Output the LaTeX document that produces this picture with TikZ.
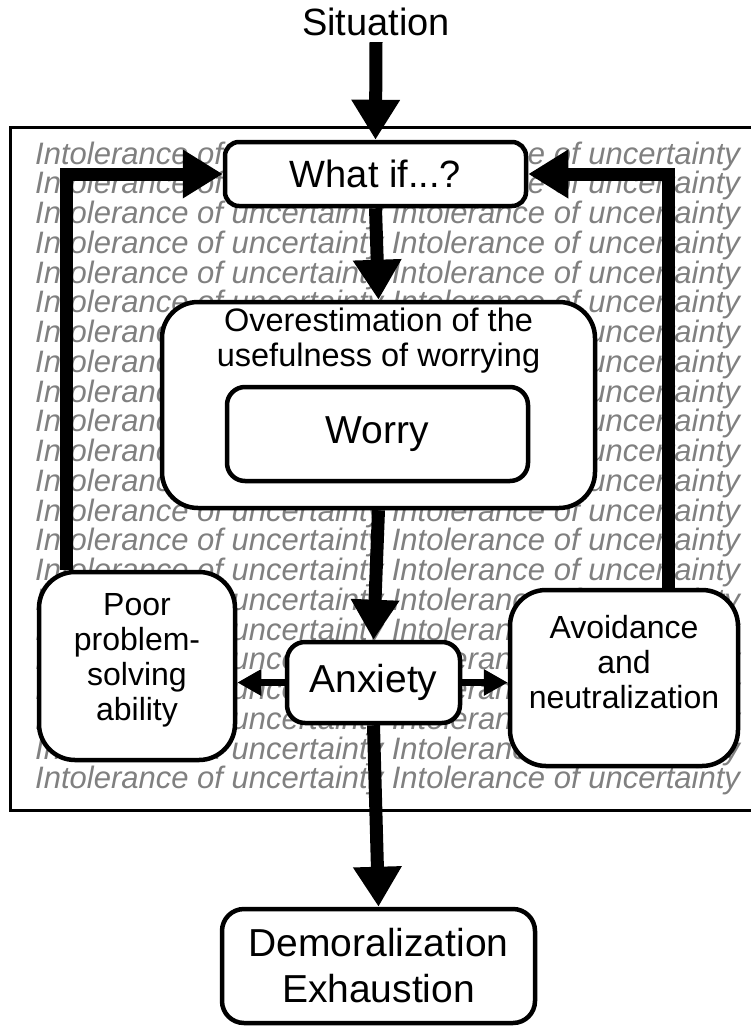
\documentclass[tikz,border=0pt]{standalone}
\usepackage{fontspec}
\setmainfont{Liberation Sans}
\usetikzlibrary{arrows.meta,calc}
\pgfdeclarelayer{back}
\pgfdeclarelayer{mid}
\pgfsetlayers{back,mid,main}
\begin{document}
\begin{tikzpicture}[x=1pt,y=-1pt,
  box/.style={draw, line width=4.5pt, fill=white, rounded corners=#1, inner sep=0pt},
  box/.default=18pt,
  bigarrow/.style={line width=13pt, -{Triangle[width=46pt,length=40pt]}},
  smallarrow/.style={line width=7pt, -{Triangle[width=25pt,length=24pt]}},
  bgtext/.style={font=\fontsize{31}{31}\selectfont\itshape, text=black!50, anchor=west, inner sep=0pt},
  lab/.style={font=\fontsize{#1}{#1}\selectfont, inner sep=0pt, align=center},
  frame/.style={line width=3pt}
]
\useasboundingbox (0,0) rectangle (751,1029);

% background pattern and frame
\begin{pgfonlayer}{back}
  \foreach \i in {0,...,21}
    \node[bgtext] (bg\i) at (35,{156+29.76*\i}) {Intolerance of uncertainty Intolerance of uncertainty};
  \draw[frame] (753,127) -- (10,127) -- (10,810) -- (753,810);
\end{pgfonlayer}

% nodes
\node[lab=38, inner sep=6pt] (sit) at (376,22) {Situation};
\node[box=14pt, minimum width=301pt, minimum height=64pt, font=\fontsize{38}{38}\selectfont] (whatif) at (375.5,174) {What if...?};
\node[box=36pt, minimum width=433pt, minimum height=206pt] (over) at (378.5,405) {};
\node[lab=32.5, font=\fontsize{32.5}{35}\selectfont] (overtxt) at (378.5,341) {Overestimation of the\\usefulness of worrying};
\node[box=18pt, minimum width=301pt, minimum height=94pt, font=\fontsize{39}{39}\selectfont] (worry) at (377.5,434) {Worry};
\node[box=18pt, minimum width=173pt, minimum height=81pt, font=\fontsize{39}{39}\selectfont] (anx) at (373.5,682.5) {Anxiety};
\node[box=36pt, minimum width=196pt, minimum height=188pt] (poor) at (137,666) {};
\node[lab=32, font=\fontsize{32}{35}\selectfont] (poortxt) at (137,660) {Poor\\problem-\\solving\\ability};
\node[box=36pt, minimum width=228pt, minimum height=176pt] (avoid) at (624,678) {};
\node[lab=32, font=\fontsize{32}{35}\selectfont] (avoidtxt) at (624,662) {Avoidance\\and\\neutralization};
\node[box=22pt, minimum width=313pt, minimum height=114pt, align=center, font=\fontsize{39}{46}\selectfont] (demo) at (378.5,966) {Demoralization\\Exhaustion};

\coordinate (lcorner) at (66,174);
\coordinate (rcorner) at (668,174);

% connectors
\begin{pgfonlayer}{mid}
  \draw[bigarrow] (sit.south) -- (whatif.north);
  \draw[bigarrow] (whatif.south) -- (over.north);
  \draw[bigarrow] (over.south) -- (anx.north);
  \draw[bigarrow] (anx.south) -- (demo.north);
  \draw[bigarrow] (poor.north -| lcorner) -- (lcorner) -- (whatif.west);
  \draw[bigarrow] (avoid.north -| rcorner) -- (rcorner) -- (whatif.east);
  \draw[smallarrow] (anx.west) -- (anx.west -| poor.east);
  \draw[smallarrow] (anx.east) -- (anx.east -| avoid.west);
\end{pgfonlayer}
\end{tikzpicture}
\end{document}
